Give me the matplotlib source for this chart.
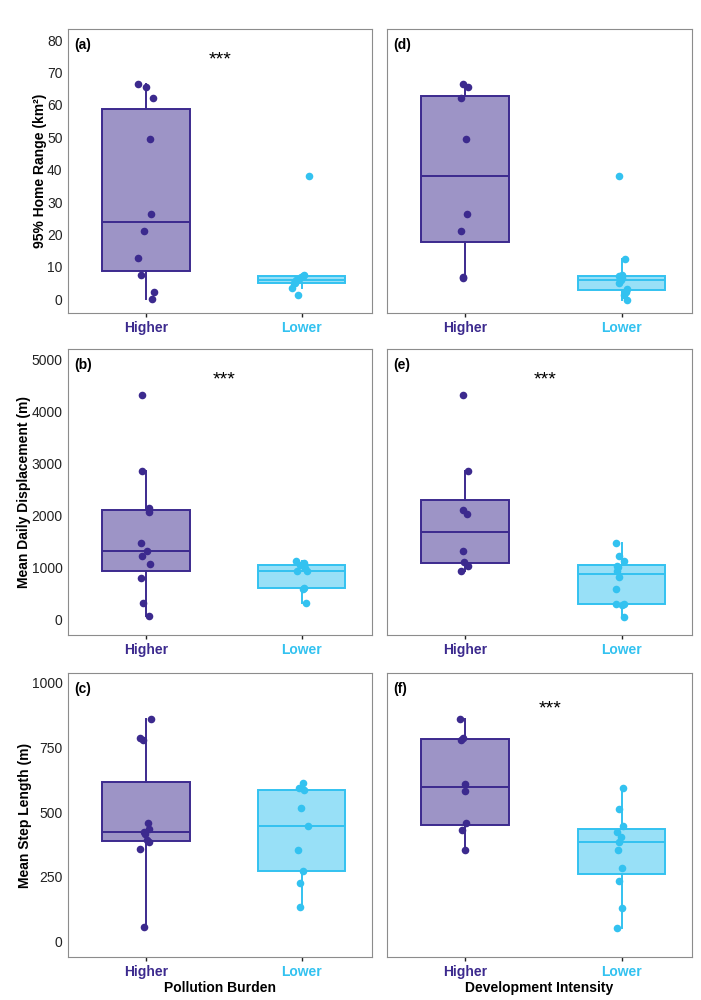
import matplotlib.pyplot as plt
import numpy as np
from matplotlib.colors import to_rgba

plt.rcParams['font.family'] = ['Liberation Sans', 'DejaVu Sans']

groups = ['Higher', 'Lower']
dark = '#3c2a8e'
light = '#33c2f0'
colors = [dark, light]

# 95% home range (km2), pollution burden
hr_poll_hi = [66.4, 65.4, 62.0, 49.5, 26.4, 21.1, 12.8, 7.4, 2.3, 0.0]
hr_poll_lo = [38.2, 7.6, 7.3, 6.9, 6.3, 6.0, 5.6, 5.0, 4.9, 3.4, 1.5]
# 95% home range, development intensity
hr_dev_hi = [66.4, 65.4, 62.0, 49.5, 26.4, 21.1, 7.0, 6.7]
hr_dev_lo = [38.2, 12.6, 7.4, 7.2, 6.5, 6.0, 4.9, 3.1, 2.4, 1.3, -0.2]

# mean daily displacement (m)
md_poll_hi = [4331, 2851, 2140, 2060, 1473, 1326, 1223, 1070, 800, 309, 58]
md_poll_lo = [1133, 1081, 1040, 985, 940, 933, 598, 590, 309]
md_dev_hi = [4331, 2851, 2117, 2027, 1326, 1107, 1030, 933]
md_dev_lo = [1465, 1220, 1130, 1028, 1000, 925, 822, 592, 300, 296, 285, 51]

# mean step length (m)
sl_poll_hi = [861, 785, 779, 457, 434, 422, 415, 393, 385, 356, 55]
sl_poll_lo = [611, 592, 586, 515, 447, 355, 274, 228, 134]
sl_dev_hi = [861, 785, 779, 609, 583, 457, 432, 354]
sl_dev_lo = [592, 514, 445, 422, 405, 386, 354, 285, 235, 131, 54]

# horizontal jitter (category units)
jit_hr_poll_hi = [-0.049, 0.0, 0.045, 0.026, 0.032, -0.013, -0.051, -0.034, 0.053, 0.038]
jit_hr_poll_lo = [0.045, 0.017, 0.006, -0.004, -0.019, -0.036, -0.038, -0.051, -0.045, -0.062, -0.026]
jit_hr_dev_hi = [-0.015, 0.017, -0.024, 0.002, 0.011, -0.024, -0.015, -0.011]
jit_hr_dev_lo = [-0.015, 0.019, 0.004, -0.017, 0.0, -0.006, -0.017, 0.037, 0.026, 0.015, 0.037]
jit_md_poll_hi = [-0.028, -0.024, 0.021, 0.021, -0.032, 0.004, -0.028, 0.028, -0.030, -0.019, 0.017]
jit_md_poll_lo = [-0.037, 0.011, -0.011, 0.021, -0.032, 0.032, 0.015, 0.010, 0.024]
jit_md_dev_hi = [-0.015, 0.015, -0.017, 0.011, -0.011, -0.006, 0.015, -0.026]
jit_md_dev_lo = [-0.034, -0.017, 0.015, -0.032, -0.026, -0.028, -0.017, -0.034, -0.038, 0.015, 0.0, 0.015]
jit_sl_poll_hi = [0.030, -0.038, -0.021, 0.015, 0.019, -0.013, -0.004, 0.004, 0.019, -0.038, -0.011]
jit_sl_poll_lo = [0.006, -0.021, 0.015, -0.004, 0.037, -0.026, 0.006, -0.011, -0.015]
jit_sl_dev_hi = [-0.032, -0.015, -0.024, -0.004, 0.0, 0.006, -0.021, 0.0]
jit_sl_dev_lo = [0.011, -0.015, 0.006, -0.032, -0.004, -0.017, -0.026, 0.0, -0.015, 0.0, -0.030]

fig = plt.figure(figsize=(7.01, 10), dpi=100)

# panel boxes in pixels
rows_px = [(29, 313), (349, 635), (673, 957)]
cols_px = [(68, 372), (387, 692)]


def make_ax(r, c):
    y0, y1 = rows_px[r]
    x0, x1 = cols_px[c]
    return fig.add_axes([x0 / 701, 1 - y1 / 1000, (x1 - x0) / 701, (y1 - y0) / 1000])


def panel(ax, hi, lo, jhi, jlo, ylim, yticks, tag, stars=None, show_y=True):
    bp = ax.boxplot([hi, lo], positions=[1, 2], widths=0.56, whis=1.5,
                    showfliers=False, showcaps=False, patch_artist=True)
    for i, c in enumerate(colors):
        bp['boxes'][i].set_facecolor(to_rgba(c, 0.5))
        bp['boxes'][i].set_edgecolor(c)
        bp['boxes'][i].set_linewidth(1.4)
        bp['medians'][i].set_color(c)
        bp['medians'][i].set_linewidth(1.4)
        for w in bp['whiskers'][2 * i:2 * i + 2]:
            w.set_color(c)
            w.set_linewidth(1.4)
    for k, (vals, jit) in enumerate([(hi, jhi), (lo, jlo)]):
        ax.scatter(k + 1 + np.array(jit), vals, s=30, color=colors[k],
                   linewidths=0, zorder=3)
    ax.set_xlim(0.5, 2.45)
    ax.set_ylim(*ylim)
    ax.set_yticks(yticks)
    ax.set_xticks([1, 2])
    ax.set_xticklabels(groups, fontsize=10, fontweight='bold')
    for lbl, c in zip(ax.get_xticklabels(), colors):
        lbl.set_color(c)
    ax.tick_params(axis='y', length=0, pad=4, labelsize=10, labelcolor='#222222',
                   labelleft=show_y)
    ax.tick_params(axis='x', length=3, width=1, color='#222222', pad=2.5)
    for s in ax.spines.values():
        s.set_color('#8c8c8c')
        s.set_linewidth(0.8)
    ax.text(0.02, 0.968, tag, transform=ax.transAxes, fontsize=10,
            fontweight='bold', ha='left', va='top')
    if stars is not None:
        ax.text(stars[0], stars[1], '***', transform=ax.transAxes, fontsize=14,
                ha='center', va='top')


ax_a = make_ax(0, 0)
panel(ax_a, hr_poll_hi, hr_poll_lo, jit_hr_poll_hi, jit_hr_poll_lo,
      (-4.2, 83.4), range(0, 81, 10), '(a)', stars=(0.5, 0.92))
ax_a.set_ylabel('95% Home Range (km²)', fontsize=10, fontweight='bold', labelpad=0)

ax_d = make_ax(0, 1)
panel(ax_d, hr_dev_hi, hr_dev_lo, jit_hr_dev_hi, jit_hr_dev_lo,
      (-4.2, 83.4), range(0, 81, 10), '(d)', show_y=False)

ax_b = make_ax(1, 0)
panel(ax_b, md_poll_hi, md_poll_lo, jit_md_poll_hi, jit_md_poll_lo,
      (-303, 5212), range(0, 5001, 1000), '(b)', stars=(0.513, 0.922))
ax_b.set_ylabel('Mean Daily Displacement (m)', fontsize=10, fontweight='bold', labelpad=0)

ax_e = make_ax(1, 1)
panel(ax_e, md_dev_hi, md_dev_lo, jit_md_dev_hi, jit_md_dev_lo,
      (-303, 5212), range(0, 5001, 1000), '(e)', stars=(0.518, 0.92), show_y=False)

ax_c = make_ax(2, 0)
panel(ax_c, sl_poll_hi, sl_poll_lo, jit_sl_poll_hi, jit_sl_poll_lo,
      (-59, 1037), range(0, 1001, 250), '(c)')
ax_c.set_ylabel('Mean Step Length (m)', fontsize=10, fontweight='bold', labelpad=0)
ax_c.set_xlabel('Pollution Burden', fontsize=10, fontweight='bold', labelpad=1.5)

ax_f = make_ax(2, 1)
panel(ax_f, sl_dev_hi, sl_dev_lo, jit_sl_dev_hi, jit_sl_dev_lo,
      (-59, 1037), range(0, 1001, 250), '(f)', stars=(0.534, 0.902), show_y=False)
ax_f.set_xlabel('Development Intensity', fontsize=10, fontweight='bold', labelpad=1.5)

fig.savefig('out.png', dpi=100)
